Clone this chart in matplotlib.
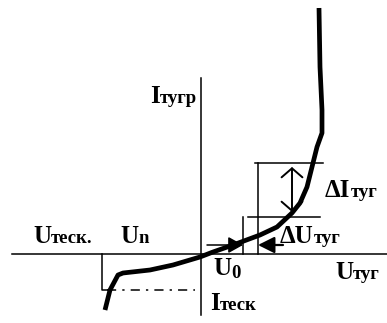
import numpy as np
import matplotlib
matplotlib.use("Agg")
import matplotlib.pyplot as plt
from matplotlib.patches import FancyArrowPatch

# characteristic curve (u = voltage, i = current), arbitrary units
curve_u = [-9.6, -9.1, -8.3, -7.8, -5.1, -2.8, -0.1, 1.2, 3.2, 5.9, 7.6,
           9.1, 9.9, 10.6, 11.1, 11.6, 12.1, 12.1, 11.9, 11.8]
curve_i = [-5.6, -3.6, -2.1, -1.9, -1.6, -1.1, -0.3, 0.2, 0.9, 1.9, 2.7,
           4.1, 5.1, 6.7, 8.7, 10.7, 12.1, 14.4, 18.7, 24.6]

# axis extents
u_axis = [-18.9, 18.6]
i_axis = [-6.1, 17.6]

# reverse breakdown marker
u_rev = -9.9
i_rev = -3.6
u_rev_dash_end = -0.6

# working zone box
i_top, i_low = 9.1, 3.7
u_box_right, u_box_left = 5.7, 4.2
u_top_line = [5.4, 12.2]
u_low_line = [4.7, 11.9]
u_dI = 9.1

fig = plt.figure(figsize=(3.87, 3.23), dpi=100)
ax = fig.add_axes([0, 0, 1, 1])
ax.set_xlim(-20.1, 18.6)
ax.set_ylim(-6.9, 25.4)
ax.axis("off")

k = "black"
ax.plot(u_axis, [0, 0], color=k, lw=1.1)
ax.plot([0, 0], i_axis, color=k, lw=1.1)

ax.plot(curve_u, curve_i, color=k, lw=3.4, solid_capstyle="butt",
        solid_joinstyle="round", zorder=5)

ax.plot([u_rev, u_rev, u_rev + 0.7], [0, i_rev, i_rev], color=k, lw=1.1)
ax.plot([u_rev + 0.5, u_rev_dash_end], [i_rev, i_rev], color=k, lw=1.1,
        linestyle=(0, (6, 4, 1.5, 4)))

ax.plot(u_top_line, [i_top, i_top], color=k, lw=1.1)
ax.plot([u_box_right, u_box_right], [0, i_top], color=k, lw=1.1)
ax.plot(u_low_line, [i_low, i_low], color=k, lw=1.1)
ax.plot([u_box_left, u_box_left], [0, i_low], color=k, lw=1.1)

# delta I double arrow (open heads)
ax.add_patch(FancyArrowPatch((u_dI, i_low + 0.5), (u_dI, i_top - 0.4),
                             arrowstyle="<->,head_length=6.5,head_width=7.5",
                             mutation_scale=1, color=k, lw=1.4,
                             shrinkA=0, shrinkB=0))
# delta U arrows (filled heads)
ax.add_patch(FancyArrowPatch((0.6, 0.9), (u_box_left, 0.9),
                             arrowstyle="-|>,head_length=9,head_width=5",
                             mutation_scale=1, color=k, lw=1.1, shrinkA=0, shrinkB=0))
ax.add_patch(FancyArrowPatch((8.2, 0.9), (u_box_right, 0.9),
                             arrowstyle="-|>,head_length=10,head_width=5",
                             mutation_scale=1, color=k, lw=1.6, shrinkA=0, shrinkB=0))

renderer = fig.canvas.get_renderer()
font = dict(family="Liberation Serif", fontweight="bold", color=k)


def label(u, i, main, sub, dy=0.0):
    t = ax.text(u, i, main, fontsize=18, va="baseline", ha="left", **font)
    w = t.get_window_extent(renderer).width * 72 / fig.dpi
    ax.annotate(sub, xy=(u, i), xycoords="data", xytext=(w, dy),
                textcoords="offset points", fontsize=13.5, va="baseline",
                ha="left", **font)


label(-5.1, 15.1, "I", "тугр")
label(12.4, 5.7, "ΔI", "туг")
label(7.9, 1.1, "ΔU", "туг")
label(-16.8, 1.1, "U", "теск.")
label(-8.1, 1.1, "U", "n")
label(1.2, -2.1, "U", "0", dy=-2.5)
label(13.4, -2.5, "U", "туг")
label(0.9, -5.6, "I", "теск")

fig.savefig("out.png", dpi=100)
